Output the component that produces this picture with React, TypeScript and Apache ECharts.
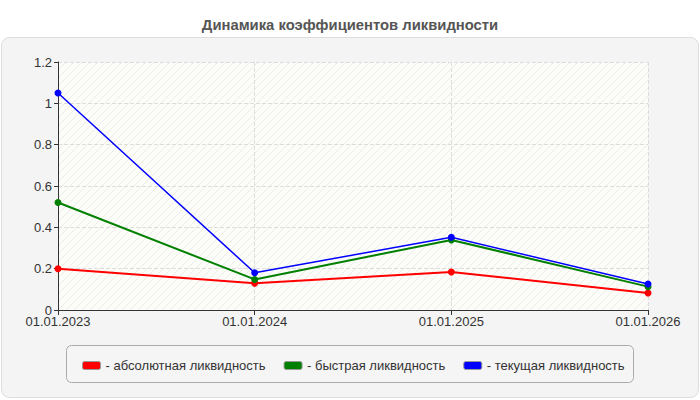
import React, { useEffect, useRef } from "react";
import * as echarts from "echarts";

const categories = ["01.01.2023", "01.01.2024", "01.01.2025", "01.01.2026"];
const absoluteLiquidity = [0.2, 0.13, 0.184, 0.082];
const quickLiquidity = [0.52, 0.148, 0.339, 0.113];
const currentLiquidity = [1.05, 0.18, 0.352, 0.126];
const seriesNames = ["абсолютная ликвидность", "быстрая ликвидность", "текущая ликвидность"];
const yTicks = { min: 0, max: 1.2, interval: 0.2 };

function makeHatch(): HTMLCanvasElement {
  const s = 8;
  const c = document.createElement("canvas");
  c.width = s;
  c.height = s;
  const ctx = c.getContext("2d")!;
  ctx.fillStyle = "#fcfcf8";
  ctx.fillRect(0, 0, s, s);
  ctx.strokeStyle = "#ebebe7";
  ctx.lineWidth = 1;
  ctx.beginPath();
  ctx.moveTo(0, s);
  ctx.lineTo(s, 0);
  ctx.moveTo(-s / 2, s / 2);
  ctx.lineTo(s / 2, -s / 2);
  ctx.moveTo(s / 2, s * 1.5);
  ctx.lineTo(s * 1.5, s / 2);
  ctx.stroke();
  return c;
}

export default function App() {
  const ref = useRef<HTMLDivElement>(null);
  useEffect(() => {
    document.body.style.margin = "0";
    const chart = echarts.init(ref.current!, null, { renderer: "svg" });
    const font = "Arial, 'Liberation Sans', sans-serif";
    const colors = ["#ff0000", "#008000", "#0000ff"];
    const data = [absoluteLiquidity, quickLiquidity, currentLiquidity];
    const widths = [2, 2, 1.5];
    chart.setOption({
      animation: false,
      backgroundColor: "#ffffff",
      textStyle: { fontFamily: font },
      title: {
        text: "Динамика коэффициентов ликвидности",
        left: "center",
        top: 12,
        textStyle: { fontSize: 14.8, fontWeight: "bold", color: "#555555", fontFamily: font },
      },
      graphic: [
        {
          type: "rect",
          z: -10,
          shape: { x: 1.5, y: 37.5, width: 697, height: 360, r: 8 },
          style: { fill: "#f4f4f4", stroke: "#dddddd", lineWidth: 1 },
        },
        {
          type: "rect",
          z: -5,
          shape: { x: 66.5, y: 345.5, width: 567, height: 37, r: 5 },
          style: { fill: "#f5f5f5", stroke: "#aaaaaa", lineWidth: 1 },
        },
      ],
      legend: {
        left: 77,
        top: 354,
        itemWidth: 18,
        itemHeight: 8,
        itemGap: 18,
        icon: "roundRect",
        itemStyle: { borderColor: "#999999", borderWidth: 1 },
        formatter: (n: string) => "- " + n,
        textStyle: { fontSize: 13, color: "#333333", fontFamily: font },
        data: seriesNames,
      },
      grid: {
        left: 58,
        right: 52,
        top: 62,
        bottom: 90,
        show: true,
        borderWidth: 0,
        backgroundColor: { image: makeHatch(), repeat: "repeat" },
      },
      xAxis: {
        type: "category",
        data: categories,
        boundaryGap: false,
        axisLine: { lineStyle: { color: "#333333", width: 1 } },
        axisTick: { show: true, length: 5, lineStyle: { color: "#333333" } },
        axisLabel: { color: "#333333", fontSize: 13, margin: 5, fontFamily: font },
        splitLine: { show: true, lineStyle: { color: "#dddddd", type: "dashed" } },
      },
      yAxis: {
        type: "value",
        min: yTicks.min,
        max: yTicks.max,
        interval: yTicks.interval,
        axisLine: { show: true, lineStyle: { color: "#333333", width: 1 } },
        axisTick: { show: true, length: 4, lineStyle: { color: "#333333" } },
        axisLabel: {
          color: "#333333",
          fontSize: 13,
          margin: 6,
          fontFamily: font,
          formatter: (v: number) => String(Math.round(v * 10) / 10),
        },
        splitLine: { show: true, lineStyle: { color: "#dddddd", type: "dashed" } },
      },
      series: seriesNames.map((name, i) => ({
        name,
        type: "line",
        data: data[i],
        symbol: "circle",
        symbolSize: 7,
        color: colors[i],
        lineStyle: { color: colors[i], width: widths[i] },
        itemStyle: { color: colors[i] },
        z: 2 + i,
      })),
    });
    return () => chart.dispose();
  }, []);
  return <div ref={ref} style={{ position: "absolute", left: 0, top: 0, width: 700, height: 400 }} />;
}
